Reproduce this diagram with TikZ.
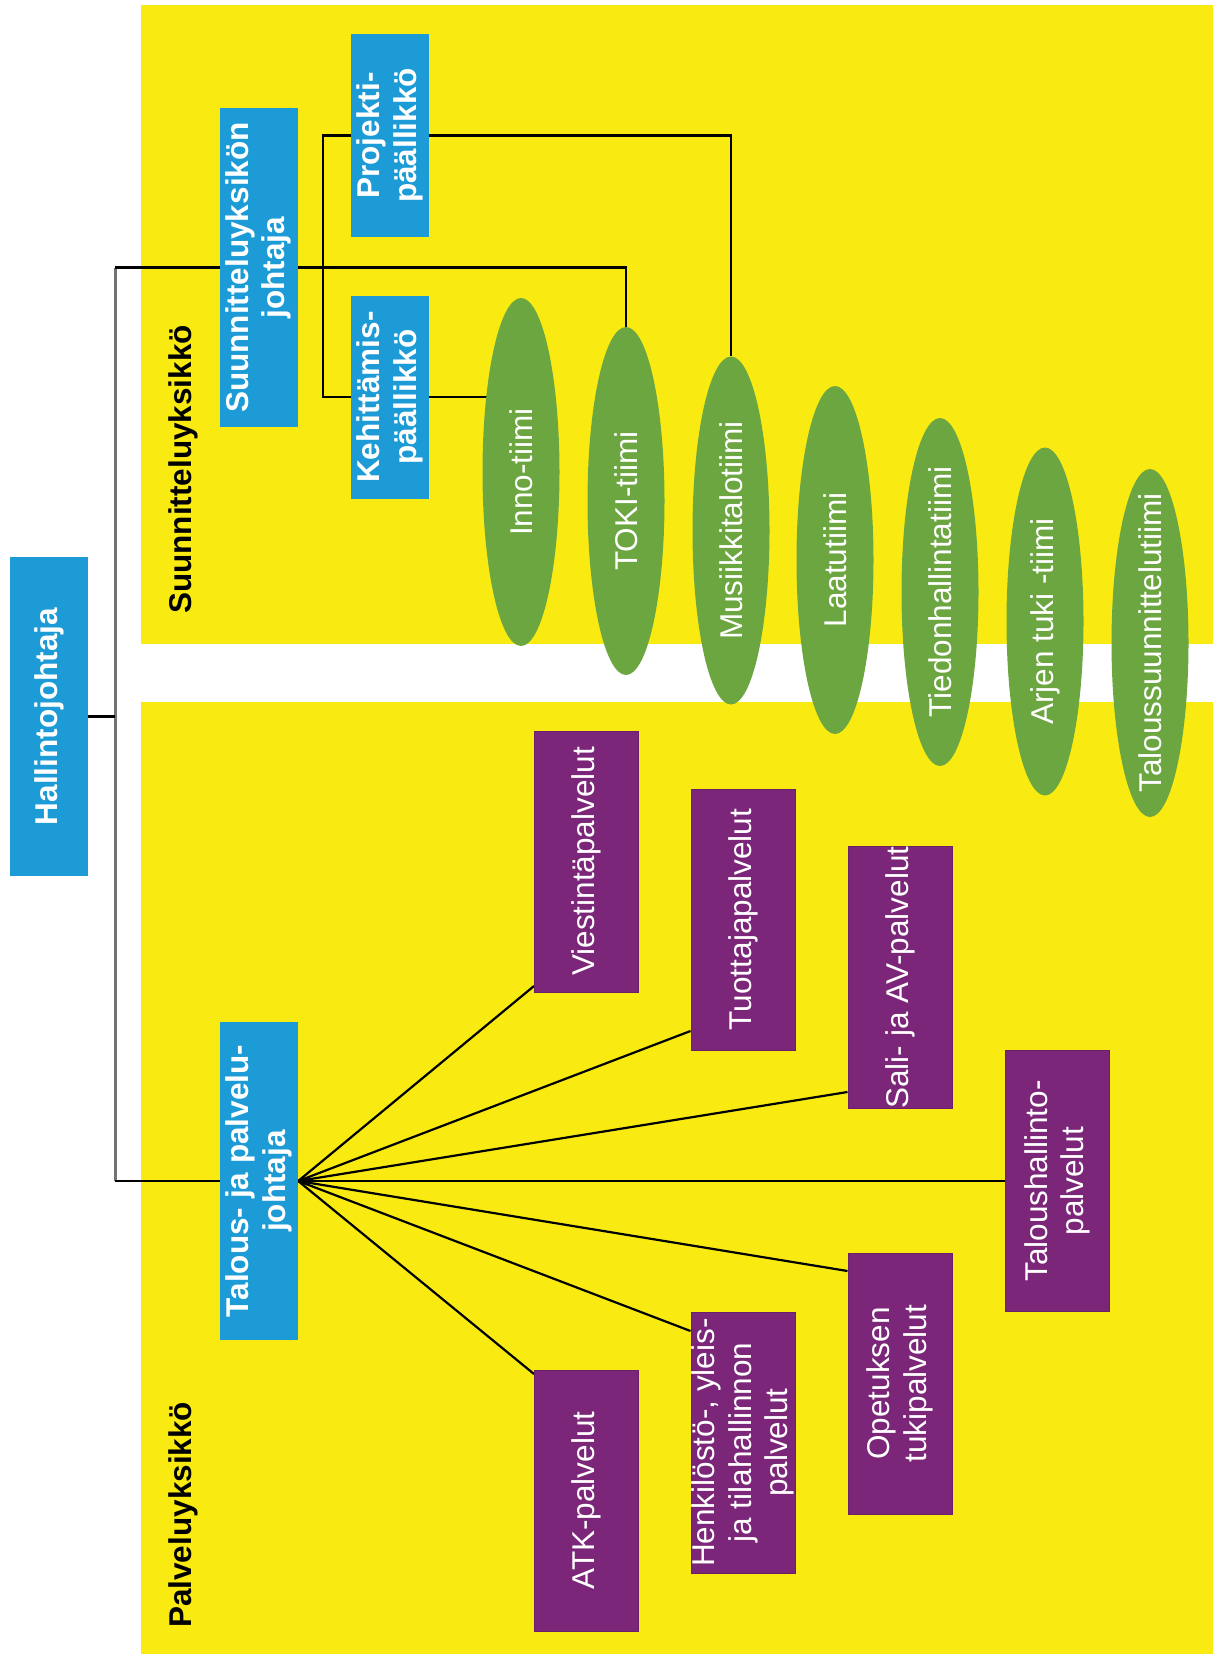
\documentclass[tikz,border=0pt]{standalone}
\usepackage{fontspec}
\setmainfont{Liberation Sans}
\usepackage{xcolor}
\usetikzlibrary{shapes.geometric}

\definecolor{keltainen}{RGB}{249,235,17}
\definecolor{sininen}{RGB}{29,155,214}
\definecolor{vihrea}{RGB}{108,166,64}
\definecolor{violetti}{RGB}{124,38,122}

\pgfdeclarelayer{tausta}
\pgfdeclarelayer{viivat}
\pgfsetlayers{tausta,viivat,main}

\newcommand{\isofontti}{\fontsize{31.5}{36.5}\selectfont}

\tikzset{johtaja/.style={rotate=90, fill=sininen, text=white, align=center,
   inner sep=0pt, minimum height=78pt, font=\isofontti\bfseries},
 palvelu/.style={rotate=90, fill=violetti, draw=violetti!85!black, line width=1pt,
   text=white, align=center, inner sep=0pt, minimum width=261pt,
   minimum height=104pt, font=\isofontti},
 tiimi/.style={ellipse, rotate=90, fill=vihrea, text=white, inner sep=0pt,
   minimum width=348pt, minimum height=77pt, font=\isofontti},
 yksikko/.style={rotate=90, anchor=west, inner sep=0pt, font=\isofontti\bfseries},
 viiva/.style={draw=black, line width=2.2pt},
 runko/.style={draw=black!55, line width=3pt},
 }

\begin{document}
\begin{tikzpicture}[x=1pt, y=-1pt]
    \useasboundingbox (0,0) rectangle (1213,1654);

    \begin{pgfonlayer}{tausta}
        \fill[white] (0,0) rectangle (1213,1654);
        \fill[keltainen] (141,5) rectangle (1213,644);
        \fill[keltainen] (141,702) rectangle (1213,1654);
    \end{pgfonlayer}

    % johto
    \node[johtaja, minimum width=319pt] (hallinto) at (49,716.5) {Hallintojohtaja};
    \node[johtaja, minimum width=319pt] (suunn) at (258.5,267.5) {Suunnitteluyksikön\\johtaja};
    \node[johtaja, minimum width=203pt] (proj) at (390,135.5) {Projekti-\\päällikkö};
    \node[johtaja, minimum width=203pt] (keh) at (390,397) {Kehittämis-\\päällikkö};
    \node[johtaja, minimum width=318pt] (talpal) at (259,1181) {Talous- ja palvelu-\\johtaja};

    \node[yksikko] (suunnyks) at (183,614) {Suunnitteluyksikkö};
    \node[yksikko] (palvyks) at (183,1628) {Palveluyksikkö};

    % tiimit
    \foreach \x/\y/\nimi/\teksti in {521/472/inno/Inno-tiimi, 626/501/toki/TOKI-tiimi,
        731/530.5/musa/Musiikkitalotiimi, 835/560/laatu/Laatutiimi,
        940/592/tieto/Tiedonhallintatiimi, 1045/621.5/arki/Arjen tuki -tiimi,
        1150/643/talsu/Taloussuunnittelutiimi} {
        \node[tiimi] (\nimi) at (\x,\y) {\makebox[0pt]{\teksti}};
    }

    % palvelut
    \node[palvelu] (viest) at (586.5,861.5) {Viestintäpalvelut};
    \node[palvelu] (tuot) at (743,919.5) {Tuottajapalvelut};
    \node[palvelu] (sali) at (900,977.5) {Sali- ja AV-palvelut};
    \node[palvelu] (talh) at (1057.5,1181) {Taloushallinto-\\palvelut};
    \node[palvelu] (opet) at (900,1383.5) {Opetuksen\\tukipalvelut};
    \node[palvelu] (henk) at (743,1442.5) {Henkilöstö-, yleis-\\ja tilahallinnon\\palvelut};
    \node[palvelu] (atk) at (586.5,1500.5) {ATK-palvelut};

    \coordinate (yla) at (115,267.5);
    \coordinate (ala) at (115,1181);

    \begin{pgfonlayer}{viivat}
        \draw[runko] (yla) -- (ala);
        \draw[viiva] (hallinto.south) -- (hallinto.south -| yla);
        \draw[viiva] (yla) -| (toki.east);
        \draw[viiva] (ala) -- (talh.north);
        \draw[viiva] (proj.north) -- ++(-28,0) |- (keh.north);
        \draw[viiva] (proj.south) -| (musa.east);
        \draw[viiva] (keh.south) -- (keh.south -| inno);
        \foreach \kohde/\siirto in {viest/-124.5, tuot/-111.5, sali/-114.5,
            opet/112.5, henk/111.5, atk/126.5} {
            \draw[viiva] (talpal.south) -- ([yshift=\siirto pt]\kohde.north);
        }
    \end{pgfonlayer}
\end{tikzpicture}
\end{document}
